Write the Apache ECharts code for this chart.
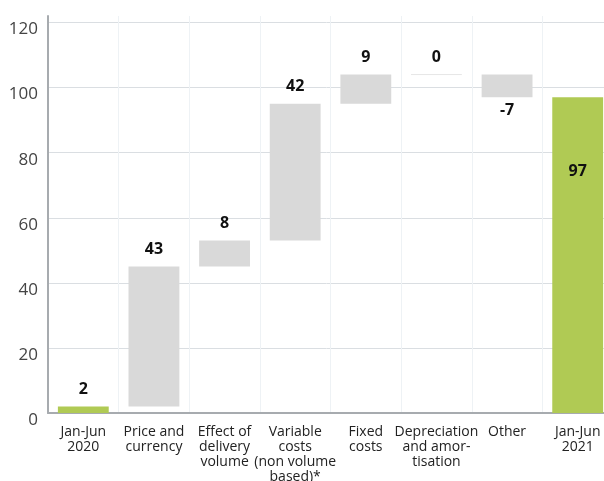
<!DOCTYPE html>
<html>
<head>
<meta charset="utf-8">
<script src="https://cdn.jsdelivr.net/npm/echarts@6/dist/echarts.min.js"></script>
<style>
  html, body { margin: 0; padding: 0; background: #ffffff; }
  #chart { width: 604px; height: 481px; }
</style>
</head>
<body>
<div id="chart"></div>
<script>
// Bridge categories (x axis)
const categories = [
  'Jan-Jun\n2020',
  'Price and\ncurrency',
  'Effect of\ndelivery\nvolume',
  'Variable\ncosts\n(non volume\nbased)*',
  'Fixed\ncosts',
  'Depreciation\nand amor-\ntisation',
  'Other',
  'Jan-Jun\n2021'
];
// Opening total, period changes, closing total
const values = [2, 43, 8, 42, 9, 0, -7, 97];
// Which entries are totals (drawn from zero) vs. changes
const kinds = ['total', 'delta', 'delta', 'delta', 'delta', 'delta', 'delta', 'total'];
// Y axis tick labels
const yTicks = [0, 20, 40, 60, 80, 100, 120];

// Build floating segments: [index, low, high, value, isTotal]
const segments = [];
let running = 0;
values.forEach((v, i) => {
  if (kinds[i] === 'total') {
    segments.push([i, 0, v, v, 1]);
    running = v;
  } else {
    const start = running;
    const end = running + v;
    segments.push([i, Math.min(start, end), Math.max(start, end), v, 0]);
    running = end;
  }
});

const GREEN = '#b0ca54';
const GREY = '#d9d9d9';
const LABEL_FONT = 'bold 16px "Open Sans", "Noto Sans", sans-serif';

function renderItem(params, api) {
  const idx = api.value(0);
  const lo = api.value(1);
  const hi = api.value(2);
  const v = api.value(3);
  const isTotal = api.value(4) === 1;
  const pTop = api.coord([idx, hi]);
  const pBot = api.coord([idx, lo]);
  const bw = api.size([1, 0])[0] * 0.72;
  const x = pTop[0] - bw / 2;
  const children = [];

  if (v === 0) {
    children.push({
      type: 'line',
      shape: { x1: x, y1: pTop[1], x2: x + bw, y2: pTop[1] },
      style: { stroke: '#e6e6e6', lineWidth: 1 }
    });
  } else {
    children.push({
      type: 'rect',
      shape: { x: x, y: pTop[1], width: bw, height: pBot[1] - pTop[1] },
      style: { fill: isTotal ? GREEN : GREY }
    });
  }

  let ly;
  if (v < 0) {
    ly = pBot[1] + 13;
  } else if (isTotal && idx === values.length - 1) {
    ly = pTop[1] + 74;
  } else {
    ly = pTop[1] - 17;
  }
  children.push({
    type: 'text',
    style: {
      text: String(v),
      x: pTop[0],
      y: ly,
      fill: '#111111',
      font: LABEL_FONT,
      align: 'center',
      verticalAlign: 'middle'
    }
  });
  return { type: 'group', children: children };
}

const chart = echarts.init(document.getElementById('chart'), null, { renderer: 'canvas' });
chart.setOption({
  animation: false,
  backgroundColor: '#ffffff',
  grid: { left: 48, top: 16, width: 565, height: 397, containLabel: false, outerBoundsMode: 'none' },
  xAxis: {
    type: 'category',
    data: categories,
    axisLine: { show: true, lineStyle: { color: '#a7abaf', width: 2 } },
    axisTick: { show: false },
    splitLine: { show: true, interval: 0, lineStyle: { color: '#eef2f5', width: 1 } },
    axisLabel: {
      interval: 0,
      margin: 12,
      color: '#222222',
      fontSize: 14,
      lineHeight: 15,
      fontFamily: '"Open Sans", "Noto Sans", sans-serif'
    }
  },
  yAxis: {
    type: 'value',
    min: yTicks[0],
    max: 122,
    interval: 20,
    axisLine: { show: true, lineStyle: { color: '#a7abaf', width: 2 } },
    axisTick: { show: false },
    splitLine: { show: true, showMaxLine: false, lineStyle: { color: '#dadee2', width: 1 } },
    axisLabel: {
      showMaxLabel: false,
      margin: 10,
      verticalAlign: 'top',
      lineHeight: 14,
      color: '#444444',
      fontSize: 17,
      fontFamily: '"Open Sans", "Noto Sans", sans-serif'
    }
  },
  series: [{
    type: 'custom',
    renderItem: renderItem,
    encode: { x: 0, y: [1, 2] },
    data: segments,
    clip: false
  }]
});
</script>
</body>
</html>
